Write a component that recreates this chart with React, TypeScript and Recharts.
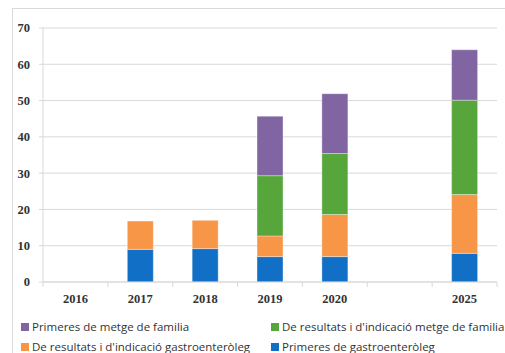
import React from 'react';
import { BarChart, Bar, XAxis, YAxis, CartesianGrid } from 'recharts';

// Visits per year, stacked by type
const years = ['2016', '2017', '2018', '2019', '2020', ' ', '2025'];
const primeresGastro = [0, 9, 9.2, 7, 7, 0, 7.9];
const resultatsGastro = [0, 7.8, 7.8, 5.7, 11.6, 0, 16.2];
const resultatsMetge = [0, 0, 0, 16.6, 16.8, 0, 26];
const primeresMetge = [0, 0, 0, 16.4, 16.5, 0, 13.9];
const yTicks = [0, 10, 20, 30, 40, 50, 60, 70];

const series = [
  { key: 'primeresGastro', name: 'Primeres de gastroenteròleg', color: '#1170C6', values: primeresGastro },
  { key: 'resultatsGastro', name: "De resultats i d'indicació gastroenteròleg", color: '#F79646', values: resultatsGastro },
  { key: 'resultatsMetge', name: "De resultats i d'indicació metge de familia", color: '#57A63B', values: resultatsMetge },
  { key: 'primeresMetge', name: 'Primeres de metge de familia', color: '#8065A2', values: primeresMetge },
];

// legend reading order: two rows, two columns
const legendOrder = ['primeresMetge', 'resultatsMetge', 'resultatsGastro', 'primeresGastro'];

const data = years.map((year, i) => {
  const row: Record<string, string | number> = { year };
  series.forEach((s) => {
    row[s.key] = s.values[i];
  });
  return row;
});

const AXIS_GRAY = '#d9d9d9';
const TEXT = '#333333';
const TICK_FONT = "'Liberation Serif', serif";
const tickTextStyle = { fontFamily: TICK_FONT, fontSize: 12.5, fontWeight: 700 as const };

const YearTick = (props: any) => {
  const { x, y, payload, index, visibleTicksCount } = props;
  const half = payload.offset ?? 0;
  const axisY = y - 11;
  const isLast = index === visibleTicksCount - 1;
  return (
    <g>
      <line x1={x - half} x2={x - half} y1={axisY} y2={axisY + 5} stroke={AXIS_GRAY} />
      {isLast && <line x1={x + half} x2={x + half} y1={axisY} y2={axisY + 5} stroke={AXIS_GRAY} />}
      <text x={x} y={y} dy="0.8em" textAnchor="middle" fill={TEXT} style={tickTextStyle}>
        {payload.value}
      </text>
    </g>
  );
};

const ValueTick = (props: any) => {
  const { x, y, payload } = props;
  return (
    <text x={x} y={y} dy="0.35em" textAnchor="end" fill={TEXT} style={tickTextStyle}>
      {payload.value}
    </text>
  );
};

export default function App() {
  return (
    <div style={{ position: 'relative', width: 505, height: 353, overflow: 'hidden' }}>
      <style>{'body{margin:0;overflow:hidden}'}</style>
      <div
        style={{
          position: 'absolute',
          left: 12,
          top: 8,
          width: 600,
          height: 400,
          border: `1px solid ${AXIS_GRAY}`,
          boxSizing: 'border-box',
        }}
      />
      <div style={{ position: 'absolute', left: 0, top: 0 }}>
        <BarChart
          width={505}
          height={353}
          data={data}
          margin={{ top: 28, right: 8, bottom: 41, left: 0 }}
          barCategoryGap="30%"
        >
          <CartesianGrid vertical={false} stroke={AXIS_GRAY} />
          <XAxis
            dataKey="year"
            axisLine={{ stroke: AXIS_GRAY }}
            tickLine={false}
            tickSize={5}
            tickMargin={6}
            interval={0}
            tick={<YearTick />}
          />
          <YAxis
            width={43}
            domain={[0, 70]}
            ticks={yTicks}
            interval={0}
            axisLine={{ stroke: AXIS_GRAY }}
            tickLine={{ stroke: AXIS_GRAY }}
            tickSize={4}
            tickMargin={9}
            tick={<ValueTick />}
          />
          {series.map((s) => (
            <Bar
              key={s.key}
              dataKey={s.key}
              name={s.name}
              stackId="visits"
              fill={s.color}
              stroke="#ffffff"
              strokeOpacity={0.35}
              isAnimationActive={false}
            />
          ))}
        </BarChart>
      </div>
      <div
        style={{
          position: 'absolute',
          left: 21,
          top: 319,
          width: 600,
          display: 'grid',
          gridTemplateColumns: '250px 350px',
          rowGap: 4,
          fontFamily: '"Open Sans", sans-serif',
          fontSize: 11.5,
          color: TEXT,
          lineHeight: '16px',
        }}
      >
        {legendOrder.map((k) => {
          const s = series.find((x) => x.key === k)!;
          return (
            <div key={k} style={{ display: 'flex', alignItems: 'center', whiteSpace: 'nowrap' }}>
              <span style={{ width: 8, height: 8, background: s.color, marginRight: 3, display: 'inline-block' }} />
              <span>{s.name}</span>
            </div>
          );
        })}
      </div>
    </div>
  );
}
